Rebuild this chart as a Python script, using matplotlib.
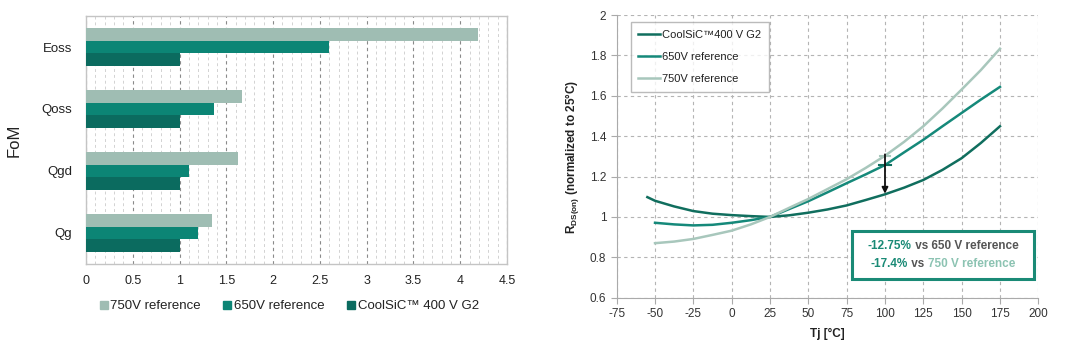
import matplotlib
matplotlib.use("Agg")
import matplotlib.pyplot as plt
import numpy as np
from matplotlib.offsetbox import TextArea, HPacker, VPacker, AnchoredOffsetbox
from matplotlib.lines import Line2D
from matplotlib.patches import Rectangle
from matplotlib.ticker import MultipleLocator

plt.rcParams['font.family'] = ['Liberation Sans', 'DejaVu Sans']
plt.rcParams['axes.unicode_minus'] = False

# ---------------- data: left bar chart ----------------
fom_categories = ["Eoss", "Qoss", "Qgd", "Qg"]
fom_750 = [4.19, 1.67, 1.62, 1.35]
fom_650 = [2.60, 1.37, 1.10, 1.20]
fom_400 = [1.00, 1.00, 1.00, 1.00]
bar_labels = ["750V reference", "650V reference", "CoolSiC\u2122 400 V G2"]

# ---------------- data: right line chart ----------------
tj_400 = [-55, -50, -37.5, -25, -12.5, 0, 12.5, 25, 37.5, 50, 62.5, 75, 87.5, 100, 112.5, 125, 137.5, 150, 162.5, 175]
r_400 = [1.098, 1.080, 1.052, 1.029, 1.016, 1.009, 1.004, 1.000, 1.008, 1.021, 1.037, 1.057, 1.084, 1.112, 1.145, 1.183, 1.233, 1.291, 1.366, 1.449]
tj_ref = [-50, -37.5, -25, -12.5, 0, 12.5, 25, 37.5, 50, 62.5, 75, 87.5, 100, 112.5, 125, 137.5, 150, 162.5, 175]
r_650 = [0.971, 0.963, 0.958, 0.961, 0.971, 0.984, 1.000, 1.039, 1.078, 1.122, 1.167, 1.211, 1.257, 1.320, 1.382, 1.449, 1.515, 1.581, 1.644]
r_750 = [0.870, 0.878, 0.891, 0.911, 0.932, 0.963, 1.000, 1.045, 1.089, 1.138, 1.187, 1.243, 1.303, 1.372, 1.449, 1.537, 1.631, 1.727, 1.833]
line_labels = ["CoolSiC\u2122400 V G2", "650V reference", "750V reference"]
arrow_x = 100
arrow_top = 1.31
arrow_bottom = 1.115
cap_750 = 1.303
cap_650 = 1.257

c750 = "#9fbdb3"
c650 = "#0c8575"
c400 = "#0b6b5f"
l400 = "#106e5e"
l650 = "#15897a"
l750 = "#a8c7bc"

fig = plt.figure(figsize=(10.8, 3.53), dpi=100)

# ================= left chart =================
ax1 = fig.add_axes([86/1080, 1-264/353, 421/1080, 248/353])
y = np.arange(len(fom_categories))[::-1].astype(float)
h = 0.205
ax1.barh(y + h, fom_750, height=h, color=c750, label=bar_labels[0], zorder=3)
ax1.barh(y, fom_650, height=h, color=c650, label=bar_labels[1], zorder=3)
ax1.barh(y - h, fom_400, height=h, color=c400, label=bar_labels[2], zorder=3)
ax1.set_xlim(0, 4.5)
ax1.set_ylim(-0.5, 3.5)
ax1.set_yticks(y)
ax1.set_yticklabels(fom_categories, fontsize=9.5, color="#222222")
ax1.xaxis.set_minor_locator(MultipleLocator(0.1))
xt = np.arange(0, 4.51, 0.5)
ax1.set_xticks(xt)
ax1.set_xticklabels([("%g" % v) for v in xt], fontsize=9, color="#222222")
ax1.tick_params(axis="both", which="both", length=0)
ax1.tick_params(axis="x", pad=8)
ax1.tick_params(axis="y", pad=10)
ax1.grid(axis="x", which="major", linestyle=(0, (3, 3)), color="#8a8a8a", linewidth=0.8, zorder=0)
ax1.grid(axis="x", which="minor", linestyle=(0, (3, 3)), color="#d2d2d2", linewidth=0.7, zorder=0)
for s in ax1.spines.values():
    s.set_color("#c4c4c4")
    s.set_linewidth(1.0)
ax1.set_ylabel("FoM", fontsize=12, color="#222222")
ax1.yaxis.set_label_coords(-0.153, 0.5)

handles = [Line2D([], [], marker="s", linestyle="none", markersize=6, color=c, label=l)
           for c, l in zip([c750, c650, c400], bar_labels)]
fig.legend(handles=handles, loc="center", bbox_to_anchor=(288/1080, 1-306/353), ncol=3,
           frameon=False, fontsize=9.5, handletextpad=0.0, columnspacing=1.5, handlelength=1.0,
           labelcolor="#222222")

# ================= right chart =================
ax2 = fig.add_axes([616.7/1080, 1-297.7/353, 421.6/1080, 282.7/353])
ax2.plot(tj_400, r_400, color=l400, linewidth=1.8, label=line_labels[0], zorder=3)
ax2.plot(tj_ref, r_650, color=l650, linewidth=1.8, label=line_labels[1], zorder=3)
ax2.plot(tj_ref, r_750, color=l750, linewidth=1.8, label=line_labels[2], zorder=3)
ax2.set_xlim(-75, 200)
ax2.set_ylim(0.6, 2.0)
ax2.set_xticks(np.arange(-75, 201, 25))
yt = np.round(np.arange(0.6, 2.01, 0.2), 1)
ax2.set_yticks(yt)
ax2.set_yticklabels([("%g" % v) for v in yt])
ax2.tick_params(axis="both", labelsize=8.5, labelcolor="#333333", length=4, color="#aaaaaa", direction="out")
ax2.grid(True, linestyle=(0, (3, 3)), color="#b4b4b4", linewidth=0.8, zorder=0)
ax2.spines["top"].set_visible(False)
ax2.spines["right"].set_visible(False)
ax2.spines["left"].set_color("#aaaaaa")
ax2.spines["bottom"].set_color("#aaaaaa")
ax2.set_xlabel("Tj [\u00b0C]", fontsize=8.5, fontweight="bold", color="#222222", labelpad=6)
ax2.set_ylabel(r"R$_{\mathregular{DS(on)}}$ (normalized to 25°C)", fontsize=8.5, fontweight="bold",
               color="#222222")
ax2.yaxis.set_label_coords(-0.082, 0.5)

# arrow & caps
ax2.annotate("", xy=(arrow_x, arrow_bottom), xytext=(arrow_x, arrow_top),
             arrowprops=dict(arrowstyle="-|>", color="#111111", lw=1.3, mutation_scale=9,
                             shrinkA=0, shrinkB=0), zorder=5)
ax2.plot([arrow_x - 3.5, arrow_x + 3.5], [cap_750, cap_750], color=l750, lw=1.5, zorder=4)
ax2.plot([arrow_x - 4, arrow_x + 4], [cap_650, cap_650], color=l400, lw=1.5, zorder=4)

leg = ax2.legend(loc="upper left", bbox_to_anchor=(0.02, 0.995), fontsize=8, frameon=True,
                 fancybox=False, edgecolor="#aaaaaa", handlelength=1.9, handletextpad=0.2,
                 labelspacing=1.1, borderpad=0.7, labelcolor="#222222")
leg.get_frame().set_linewidth(1.0)

# annotation box
box = Rectangle((852/1080, 1-279/353), 182/1080, 48/353, transform=fig.transFigure,
                facecolor="white", edgecolor="#1a8a76", linewidth=2.2, zorder=5)
ax2.add_patch(box)
tp = dict(fontsize=8.5, fontweight="bold")
line1 = HPacker(children=[TextArea("-12.75%", textprops=dict(color="#1a8a76", **tp)),
                          TextArea(" vs 650 V reference", textprops=dict(color="#555555", **tp))],
                align="baseline", pad=0, sep=0)
line2 = HPacker(children=[TextArea("-17.4%", textprops=dict(color="#1a8a76", **tp)),
                          TextArea(" vs ", textprops=dict(color="#555555", **tp)),
                          TextArea("750 V reference", textprops=dict(color="#8cc3b2", **tp))],
                align="baseline", pad=0, sep=0)
vbox = VPacker(children=[line1, line2], align="center", pad=0, sep=4)
ab = AnchoredOffsetbox(loc="center", child=vbox, pad=0, borderpad=0, frameon=False,
                       bbox_to_anchor=(943/1080, 1-255/353), bbox_transform=fig.transFigure)
ab.zorder = 6
ax2.add_artist(ab)

fig.savefig("out.png", dpi=100)
